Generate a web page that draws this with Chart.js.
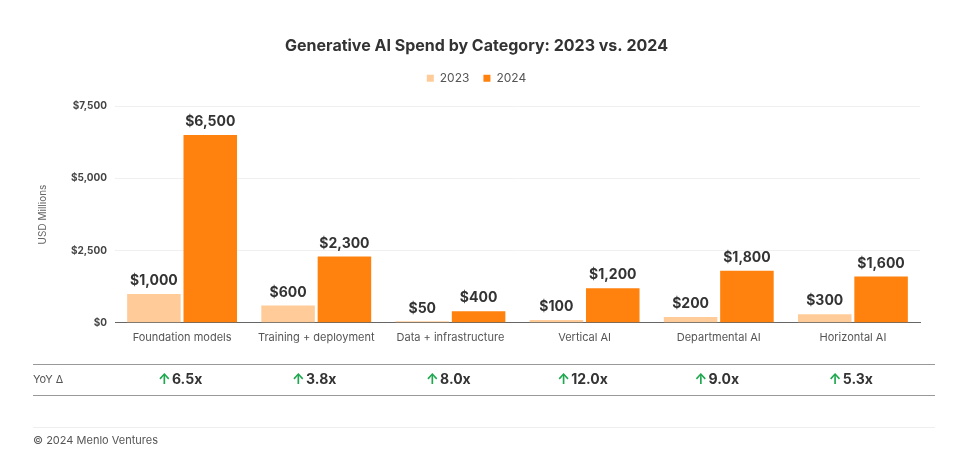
<!DOCTYPE html>
<html><head><meta charset="utf-8">
<script src="https://cdn.jsdelivr.net/npm/chart.js@4"></script>
<style>html,body{margin:0;padding:0;background:#fff}#w{width:968px;height:456px}</style>
</head><body><div id="w"><canvas id="c"></canvas></div>
<script>
const categories = ["Foundation models","Training + deployment","Data + infrastructure","Vertical AI","Departmental AI","Horizontal AI"];
const spend2023 = [1000,600,50,100,200,300];
const spend2024 = [6500,2300,400,1200,1800,1600];
const yoyLabels = ["6.5x","3.8x","8.0x","12.0x","9.0x","5.3x"];
const yTicks = [0,2500,5000,7500];
const fmt = v => "$" + v.toLocaleString("en-US");
const FONT = "Inter, 'Noto Sans', sans-serif";

const legendGap = {
  id: "legendGap",
  beforeInit(chart) {
    const orig = chart.legend.fit;
    chart.legend.fit = function () { orig.bind(chart.legend)(); this.height += 12; };
  }
};

const extras = {
  id: "extras",
  afterDatasetsDraw(chart) {
    const ctx = chart.ctx;
    ctx.save();
    ctx.font = "bold 14px " + FONT;
    ctx.fillStyle = "#333";
    ctx.textAlign = "center";
    ctx.textBaseline = "bottom";
    chart.data.datasets.forEach((ds, di) => {
      chart.getDatasetMeta(di).data.forEach((bar, i) => {
        ctx.fillText(fmt(ds.data[i]), bar.x, bar.y - 6);
      });
    });
    const x = chart.scales.x;
    ctx.strokeStyle = "#999"; ctx.lineWidth = 1;
    ctx.beginPath(); ctx.moveTo(33, 364.5); ctx.lineTo(935, 364.5); ctx.stroke();
    ctx.beginPath(); ctx.moveTo(33, 395.5); ctx.lineTo(935, 395.5); ctx.stroke();
    ctx.strokeStyle = "#eee";
    ctx.beginPath(); ctx.moveTo(33, 427.5); ctx.lineTo(935, 427.5); ctx.stroke();
    ctx.textBaseline = "middle";
    ctx.textAlign = "left";
    ctx.font = "11px " + FONT; ctx.fillStyle = "#555";
    ctx.fillText("YoY Δ", 33, 380);
    ctx.fillText("© 2024 Menlo Ventures", 33, 441);
    yoyLabels.forEach((t, i) => {
      const cx = x.getPixelForValue(i);
      ctx.font = "bold 14px " + FONT;
      const w = ctx.measureText(t).width;
      const sx = cx - (w + 14) / 2;
      ctx.fillStyle = "#1fa84f";
      ctx.fillText("↑", sx - 2, 380);
      ctx.fillStyle = "#333";
      ctx.fillText(t, sx + 12, 380);
    });
    ctx.restore();
  }
};

new Chart(document.getElementById("c"), {
  type: "bar",
  data: {
    labels: categories,
    datasets: [
      { label: "2023", data: spend2023, backgroundColor: "#ffcc99" },
      { label: "2024", data: spend2024, backgroundColor: "#ff820f" }
    ]
  },
  options: {
    responsive: true, maintainAspectRatio: false, animation: false,
    layout: { padding: { left: 33, right: 48, top: 21, bottom: 112 } },
    datasets: { bar: { barPercentage: 0.95, categoryPercentage: 0.84 } },
    plugins: {
      title: { display: true, text: "Generative AI Spend by Category: 2023 vs. 2024", color: "#333",
        font: { family: FONT, size: 16, weight: "bold" }, padding: { top: 16, bottom: 2 } },
      legend: { labels: { boxWidth: 7, boxHeight: 7, color: "#555", padding: 14, font: { family: FONT, size: 12 } } },
      tooltip: { enabled: false }
    },
    scales: {
      x: { grid: { display: false }, border: { color: "#666" },
        ticks: { color: "#555", font: { family: FONT, size: 11 }, padding: 0 } },
      y: { min: 0, max: 7500, afterBuildTicks: a => { a.ticks = yTicks.map(v => ({ value: v })); },
        grid: { color: "#f0f0f0", drawTicks: false }, border: { display: false },
        ticks: { color: "#444", font: { family: FONT, size: 10, weight: "bold" }, padding: 8, callback: v => fmt(v) },
        title: { display: true, text: "USD Millions", color: "#666", font: { family: FONT, size: 10 }, padding: { bottom: 14 } } }
    }
  },
  plugins: [legendGap, extras]
});
</script></body></html>
